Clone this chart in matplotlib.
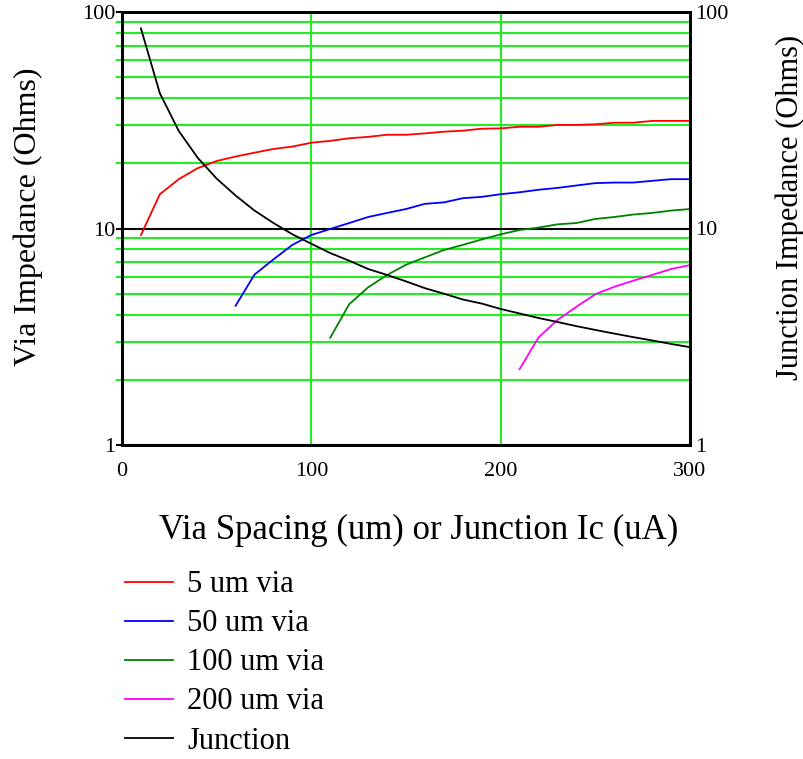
import numpy as np
import matplotlib
matplotlib.use("Agg")
import matplotlib.pyplot as plt
from matplotlib.ticker import FixedLocator, NullFormatter, FixedFormatter

plt.rcParams['font.family'] = ['Liberation Serif', 'DejaVu Serif']

# data (x every 10 um / uA)
x_all = list(range(10, 310, 10))

via5 = [9.33, 14.4, 16.9, 19.0, 20.5, 21.5, 22.4, 23.3, 23.9, 24.9,
        25.4, 26.1, 26.5, 27.1, 27.1, 27.5, 28.0, 28.3, 28.9, 29.0,
        29.5, 29.5, 30.1, 30.1, 30.3, 30.8, 30.8, 31.4, 31.4, 31.4]

x_via50 = list(range(60, 310, 10))
via50 = [4.4, 6.13, 7.2, 8.4, 9.33, 9.95, 10.6, 11.3, 11.8, 12.3,
         13.0, 13.2, 13.8, 14.0, 14.4, 14.7, 15.1, 15.4, 15.8, 16.2,
         16.3, 16.3, 16.6, 16.9, 16.9]

x_via100 = list(range(110, 310, 10))
via100 = [3.13, 4.47, 5.35, 6.1, 6.8, 7.36, 7.95, 8.4, 8.9, 9.4,
          9.84, 10.1, 10.45, 10.6, 11.07, 11.3, 11.6, 11.8, 12.1, 12.3]

x_via200 = list(range(210, 310, 10))
via200 = [2.24, 3.14, 3.78, 4.35, 4.97, 5.38, 5.74, 6.1, 6.5, 6.78]

junction = [84.0, 42.1, 28.2, 21.2, 17.0, 14.2, 12.1, 10.6, 9.4, 8.5,
            7.7, 7.1, 6.5, 6.1, 5.7, 5.3, 5.0, 4.7, 4.5, 4.25,
            4.05, 3.86, 3.7, 3.54, 3.4, 3.27, 3.15, 3.04, 2.93, 2.83]

labels = ["5 um via", "50 um via", "100 um via", "200 um via", "Junction"]
colors = ["#ff0000", "#0000ff", "#008000", "#ff00ff", "#000000"]

x_ticks = [0, 100, 200, 300]
y_ticks = [1, 10, 100]
y_ticklabels = ["1", "10", "100"]

GRID_GREEN = "#22ee22"

fig = plt.figure(figsize=(8.04, 7.59), dpi=100)
ax = fig.add_axes([122/804, 1 - 445/759, 568/804, 433/759])

series = [(x_all, via5), (x_via50, via50), (x_via100, via100),
          (x_via200, via200), (x_all, junction)]
handles = []
for (xs, ys), lab, c in zip(series, labels, colors):
    h, = ax.plot(xs, ys, color=c, lw=1.3, label=lab)
    handles.append(h)

ax.set_yscale('log')
ax.set_xlim(0, 300)
ax.set_ylim(1, 100)

minor = [m * d for d in (1, 10) for m in range(2, 10)]
ax.yaxis.set_major_locator(FixedLocator(y_ticks))
ax.yaxis.set_major_formatter(FixedFormatter(y_ticklabels))
ax.yaxis.set_minor_locator(FixedLocator(minor))
ax.yaxis.set_minor_formatter(NullFormatter())
ax.xaxis.set_major_locator(FixedLocator(x_ticks))

ax.set_axisbelow(True)
ax.grid(which='minor', axis='y', color=GRID_GREEN, lw=1.5)
ax.grid(which='major', axis='y', color='black', lw=1.5)
ax.grid(which='major', axis='x', color=GRID_GREEN, lw=1.5)

ax.tick_params(axis='y', which='major', length=4, width=1.5, color='black',
               labelsize=16, pad=1)
ax.tick_params(axis='y', which='minor', length=4, width=1.5, color=GRID_GREEN)
ax.tick_params(axis='x', length=0, labelsize=16, pad=12)
for s in ax.spines.values():
    s.set_linewidth(2)

# right axis
ax2 = ax.twinx()
ax2.set_yscale('log')
ax2.set_ylim(1, 100)
ax2.yaxis.set_major_locator(FixedLocator(y_ticks))
ax2.yaxis.set_major_formatter(FixedFormatter(y_ticklabels))
ax2.yaxis.set_minor_locator(FixedLocator(minor))
ax2.yaxis.set_minor_formatter(NullFormatter())
ax2.tick_params(axis='y', which='both', length=0, labelsize=16, pad=4)
for s in ax2.spines.values():
    s.set_linewidth(2)

fig.text(28/804, 1 - 217/759, "Via Impedance (Ohms)", rotation=90,
         ha='center', va='center', fontsize=23)
fig.text(790/804, 1 - 207/759, "Junction Impedance (Ohms)", rotation=90,
         ha='center', va='center', fontsize=22)
fig.text(419/804, 1 - 530/759, "Via Spacing (um) or Junction Ic (uA)",
         ha='center', va='center', fontsize=25)

fig.legend(handles=handles, loc='upper left', bbox_to_anchor=(113/804, 1 - 558/759),
           frameon=False, fontsize=22, handlelength=1.57, handletextpad=0.46,
           labelspacing=0.33, borderaxespad=0)

fig.savefig("out.png", dpi=100)
